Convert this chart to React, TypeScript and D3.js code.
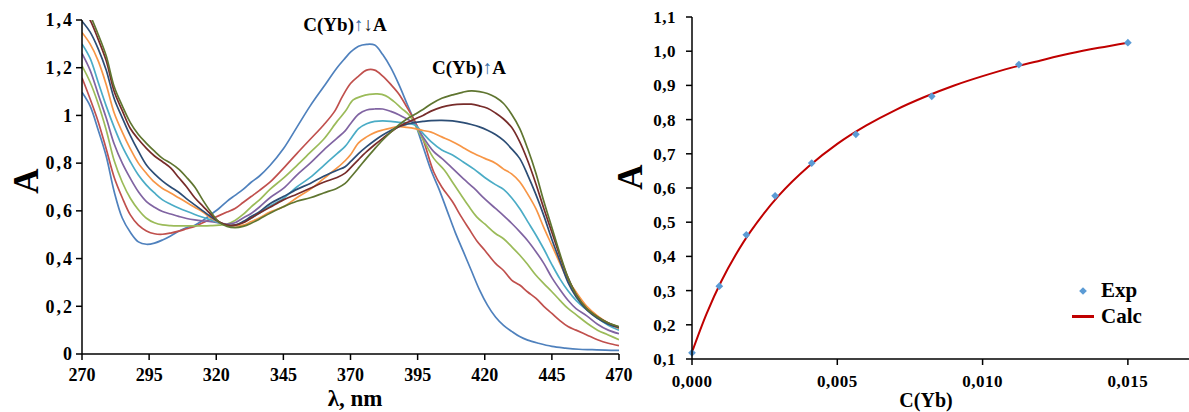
import React from "react";
import * as d3 from "d3";

// ---------- Left chart: absorption spectra ----------
const WL_TICKS = [270, 295, 320, 345, 370, 395, 420, 445, 470];
const A_TICKS = [0, 0.2, 0.4, 0.6, 0.8, 1, 1.2, 1.4];
const A_TICK_LABELS = ["0", "0,2", "0,4", "0,6", "0,8", "1", "1,2", "1,4"];

type Pt = [number, number];

const specBlue: Pt[] = [[270,1.097],[273,1.04],[276,0.94],[279,0.83],[282,0.68],[285,0.57],[288,0.51],[291,0.47],[294,0.46],[297,0.465],[300,0.478],[303,0.495],[306,0.515],[309,0.53],[312,0.54],[315,0.56],[318,0.585],[321,0.61],[324,0.64],[327,0.665],[330,0.69],[333,0.72],[336,0.745],[340,0.79],[345,0.86],[350,0.95],[355,1.04],[360,1.12],[365,1.2],[368,1.24],[370,1.265],[373,1.29],[376,1.298],[379,1.295],[382,1.255],[385,1.2],[388,1.13],[391,1.05],[394,0.97],[397,0.87],[400,0.77],[403,0.69],[406,0.6],[409,0.51],[412,0.43],[415,0.35],[418,0.27],[421,0.205],[424,0.155],[427,0.12],[430,0.095],[433,0.073],[436,0.058],[440,0.045],[445,0.032],[450,0.025],[455,0.02],[460,0.018],[465,0.016],[470,0.015]];
const specRed: Pt[] = [[270,1.158],[273,1.07],[276,0.975],[279,0.86],[282,0.74],[285,0.655],[288,0.583],[291,0.54],[294,0.516],[297,0.504],[300,0.502],[303,0.507],[306,0.515],[309,0.525],[312,0.535],[315,0.55],[318,0.565],[321,0.58],[324,0.595],[327,0.61],[330,0.635],[333,0.66],[336,0.685],[340,0.72],[345,0.778],[350,0.84],[355,0.9],[360,0.96],[364,1.016],[367,1.08],[370,1.134],[373,1.165],[376,1.19],[379,1.19],[382,1.165],[385,1.13],[388,1.09],[391,1.035],[394,0.975],[397,0.9],[401,0.763],[404,0.7],[408,0.638],[411,0.58],[414,0.527],[417,0.475],[420,0.435],[424,0.38],[427,0.35],[430,0.31],[433,0.289],[436,0.26],[439,0.234],[442,0.2],[445,0.17],[448,0.14],[451,0.115],[454,0.1],[458,0.08],[462,0.06],[466,0.045],[470,0.035]];
const specGreen: Pt[] = [[270,1.208],[273,1.14],[276,1.05],[279,0.94],[282,0.81],[285,0.72],[288,0.653],[291,0.605],[294,0.569],[297,0.55],[300,0.541],[303,0.538],[306,0.537],[309,0.537],[312,0.537],[315,0.537],[318,0.538],[321,0.54],[324,0.545],[327,0.56],[330,0.585],[333,0.617],[336,0.645],[340,0.69],[345,0.737],[350,0.79],[355,0.845],[360,0.9],[365,0.975],[368,1.016],[371,1.065],[374,1.08],[377,1.088],[380,1.09],[383,1.083],[386,1.06],[389,1.03],[392,1.0],[395,0.94],[398,0.88],[401,0.82],[405,0.77],[408,0.72],[411,0.67],[414,0.62],[417,0.575],[420,0.545],[424,0.505],[427,0.483],[430,0.45],[433,0.415],[436,0.375],[439,0.331],[442,0.295],[445,0.261],[448,0.225],[451,0.191],[454,0.165],[458,0.13],[462,0.1],[466,0.08],[470,0.06]];
const specPurple: Pt[] = [[270,1.26],[273,1.19],[276,1.09],[279,0.99],[282,0.88],[285,0.8],[288,0.736],[291,0.68],[294,0.639],[297,0.615],[300,0.597],[303,0.587],[306,0.577],[309,0.568],[312,0.562],[315,0.558],[318,0.555],[321,0.55],[324,0.545],[327,0.55],[330,0.57],[333,0.589],[336,0.615],[340,0.655],[345,0.694],[350,0.75],[355,0.8],[360,0.855],[365,0.905],[368,0.935],[370,0.965],[373,1.005],[376,1.023],[379,1.027],[382,1.027],[385,1.017],[388,1.003],[391,0.985],[394,0.965],[397,0.91],[401,0.848],[404,0.82],[408,0.778],[412,0.735],[416,0.695],[420,0.65],[424,0.61],[427,0.58],[430,0.548],[433,0.513],[436,0.475],[439,0.43],[442,0.38],[445,0.32],[448,0.27],[451,0.225],[454,0.19],[458,0.16],[462,0.125],[466,0.1],[470,0.085]];
const specCyan: Pt[] = [[270,1.3],[273,1.24],[276,1.14],[279,1.04],[282,0.95],[285,0.87],[288,0.806],[291,0.75],[294,0.708],[297,0.675],[300,0.646],[303,0.628],[306,0.612],[309,0.598],[312,0.585],[315,0.573],[318,0.562],[321,0.55],[324,0.54],[327,0.54],[330,0.552],[333,0.569],[336,0.59],[340,0.62],[345,0.652],[350,0.7],[355,0.74],[360,0.79],[365,0.84],[368,0.87],[370,0.9],[373,0.945],[376,0.965],[379,0.975],[382,0.977],[385,0.975],[388,0.971],[391,0.968],[394,0.96],[397,0.925],[400,0.89],[404,0.855],[408,0.834],[412,0.805],[416,0.775],[420,0.74],[424,0.71],[427,0.69],[430,0.655],[433,0.61],[436,0.555],[439,0.5],[442,0.44],[445,0.375],[448,0.315],[451,0.265],[454,0.225],[458,0.185],[462,0.15],[466,0.12],[470,0.1]];
const specOrange: Pt[] = [[270,1.348],[273,1.3],[276,1.23],[279,1.13],[282,1.01],[285,0.93],[288,0.86],[291,0.8],[294,0.757],[297,0.72],[300,0.694],[303,0.675],[306,0.655],[309,0.635],[312,0.615],[315,0.595],[318,0.57],[321,0.553],[324,0.54],[327,0.537],[330,0.54],[333,0.555],[336,0.57],[340,0.595],[345,0.617],[350,0.655],[355,0.69],[360,0.735],[365,0.78],[368,0.81],[370,0.835],[373,0.885],[376,0.91],[379,0.928],[382,0.939],[385,0.947],[388,0.953],[391,0.95],[394,0.945],[397,0.937],[400,0.93],[404,0.91],[408,0.89],[412,0.865],[416,0.84],[420,0.82],[424,0.8],[427,0.775],[430,0.755],[433,0.722],[436,0.67],[439,0.61],[442,0.53],[445,0.455],[448,0.38],[451,0.31],[454,0.26],[458,0.2],[462,0.16],[466,0.13],[470,0.107]];
const specNavy: Pt[] = [[270,1.395],[273,1.35],[276,1.28],[279,1.19],[282,1.07],[285,0.99],[288,0.915],[291,0.85],[294,0.792],[297,0.755],[300,0.725],[303,0.7],[306,0.678],[309,0.65],[312,0.625],[315,0.6],[318,0.575],[321,0.553],[324,0.54],[327,0.54],[330,0.555],[333,0.576],[336,0.595],[340,0.63],[345,0.66],[350,0.69],[355,0.715],[360,0.745],[365,0.77],[368,0.785],[370,0.806],[373,0.84],[376,0.869],[379,0.895],[382,0.918],[385,0.937],[388,0.953],[391,0.963],[394,0.971],[397,0.975],[400,0.978],[404,0.979],[408,0.977],[412,0.97],[415,0.962],[418,0.952],[421,0.938],[424,0.92],[427,0.895],[430,0.86],[433,0.82],[436,0.75],[439,0.67],[442,0.58],[445,0.48],[448,0.39],[451,0.3],[454,0.24],[458,0.185],[462,0.15],[466,0.125],[470,0.11]];
const specDarkRed: Pt[] = [[270,1.45],[273,1.4],[276,1.32],[279,1.23],[282,1.1],[285,1.02],[288,0.945],[291,0.9],[294,0.862],[297,0.83],[300,0.806],[303,0.78],[306,0.74],[309,0.7],[312,0.655],[315,0.62],[318,0.585],[321,0.555],[324,0.54],[327,0.54],[330,0.55],[333,0.57],[336,0.59],[340,0.615],[345,0.646],[350,0.67],[355,0.695],[360,0.72],[365,0.74],[368,0.758],[370,0.78],[373,0.815],[376,0.848],[379,0.877],[382,0.904],[385,0.93],[388,0.953],[391,0.97],[394,0.985],[397,1.0],[400,1.018],[404,1.035],[408,1.044],[412,1.047],[415,1.047],[418,1.04],[421,1.03],[424,1.01],[427,0.985],[430,0.95],[433,0.89],[436,0.81],[439,0.715],[442,0.61],[445,0.51],[448,0.41],[451,0.32],[454,0.25],[458,0.19],[462,0.155],[466,0.13],[470,0.113]];
const specOlive: Pt[] = [[270,1.48],[273,1.42],[276,1.34],[279,1.25],[282,1.12],[285,1.04],[288,0.97],[291,0.92],[294,0.883],[297,0.85],[300,0.82],[303,0.8],[306,0.775],[309,0.74],[312,0.7],[315,0.645],[318,0.595],[321,0.553],[324,0.535],[327,0.53],[330,0.535],[333,0.548],[336,0.565],[340,0.59],[345,0.617],[350,0.64],[355,0.655],[360,0.675],[365,0.695],[368,0.715],[370,0.74],[373,0.78],[376,0.821],[379,0.86],[382,0.897],[385,0.93],[388,0.96],[391,0.985],[394,1.005],[397,1.025],[400,1.048],[404,1.072],[408,1.086],[412,1.098],[415,1.103],[418,1.1],[421,1.092],[424,1.076],[427,1.05],[430,1.005],[433,0.946],[436,0.86],[439,0.76],[442,0.64],[445,0.53],[448,0.42],[451,0.32],[454,0.25],[458,0.19],[462,0.155],[466,0.13],[470,0.115]];

const SPECTRA_COLORS = ["#4F81BD", "#C0504D", "#9BBB59", "#8064A2", "#4BACC6", "#F79646", "#2C4D75", "#772C2A", "#5F7530"];
const SPECTRA = [specBlue, specRed, specGreen, specPurple, specCyan, specOrange, specNavy, specDarkRed, specOlive];

// ---------- Right chart: titration curve ----------
const C_TICKS = [0, 0.005, 0.01, 0.015];
const C_TICK_LABELS = ["0,000", "0,005", "0,010", "0,015"];
const A2_TICKS = [0.1, 0.2, 0.3, 0.4, 0.5, 0.6, 0.7, 0.8, 0.9, 1.0, 1.1];
const A2_TICK_LABELS = ["0,1", "0,2", "0,3", "0,4", "0,5", "0,6", "0,7", "0,8", "0,9", "1,0", "1,1"];

const concExp = [0, 0.00094, 0.00187, 0.00286, 0.00412, 0.00564, 0.00825, 0.01125, 0.015];
const absExp = [0.118, 0.313, 0.463, 0.577, 0.673, 0.757, 0.868, 0.961, 1.025];
const concCalc = [0, 0.0005, 0.001, 0.0015, 0.002, 0.003, 0.004, 0.005, 0.006, 0.007, 0.008, 0.009, 0.01, 0.011, 0.012, 0.013, 0.014, 0.015];
const absCalc = [0.12, 0.232, 0.326, 0.404, 0.471, 0.579, 0.662, 0.729, 0.783, 0.828, 0.866, 0.899, 0.927, 0.952, 0.973, 0.993, 1.01, 1.025];

const FONT = "'Liberation Serif', 'Times New Roman', serif";

export default function App() {
  // left scales
  const x1 = d3.scaleLinear().domain([270, 470]).range([82, 619]);
  const y1 = d3.scaleLinear().domain([0, 1.4]).range([354, 20]);
  const line1 = d3
    .line<Pt>()
    .x((d) => x1(d[0]))
    .y((d) => y1(d[1]))
    .curve(d3.curveCatmullRom.alpha(0.5));

  // right scales
  const x2 = d3.scaleLinear().domain([0, 0.017]).range([692, 1186]);
  const y2 = d3.scaleLinear().domain([0.1, 1.1]).range([359, 17]);
  const calcPts: Pt[] = concCalc.map((c, i) => [c, absCalc[i]]);
  const line2 = d3
    .line<Pt>()
    .x((d) => x2(d[0]))
    .y((d) => y2(d[1]))
    .curve(d3.curveCatmullRom.alpha(0.5));
  const diamond = d3.symbol().type(d3.symbolSquare).size(30)();

  return (
    <svg
      width={1189}
      height={412}
      style={{ position: "absolute", left: 0, top: 0, background: "#fff" }}
      fontFamily={FONT}
      fontWeight="bold"
    >
      <defs>
        <clipPath id="clipL">
          <rect x={82} y={20} width={537} height={334} />
        </clipPath>
      </defs>
      <rect x={0} y={0} width={1189} height={412} fill="#fff" />

      {/* ----- Left chart ----- */}
      <g clipPath="url(#clipL)">
        {SPECTRA.map((s, i) => (
          <path key={i} d={line1(s) || ""} fill="none" stroke={SPECTRA_COLORS[i]} strokeWidth={1.7} />
        ))}
      </g>
      <line x1={x1(270)} x2={x1(270)} y1={y1(1.4)} y2={y1(0)} stroke="#000" strokeWidth={1.5} />
      <line x1={x1(270)} x2={x1(470)} y1={y1(0)} y2={y1(0)} stroke="#000" strokeWidth={1.5} />
      {A_TICKS.map((t, i) => (
        <g key={"ly" + i}>
          <line x1={x1(270) - 6} x2={x1(270)} y1={y1(t)} y2={y1(t)} stroke="#000" strokeWidth={1.5} />
          <text x={x1(270) - 8} y={y1(t)} dy="0.35em" textAnchor="end" fontSize={18} letterSpacing={2}>
            {A_TICK_LABELS[i]}
          </text>
        </g>
      ))}
      {WL_TICKS.map((t, i) => (
        <g key={"lx" + i}>
          <line x1={x1(t)} x2={x1(t)} y1={y1(0)} y2={y1(0) + 6} stroke="#000" strokeWidth={1.5} />
          <text x={x1(t)} y={381} textAnchor="middle" fontSize={18}>
            {t}
          </text>
        </g>
      ))}
      <text transform="translate(38,181) rotate(-90)" textAnchor="middle" fontSize={35}>
        A
      </text>
      <text x={355} y={406} textAnchor="middle" fontSize={23}>
        λ, nm
      </text>
      <text x={345} y={31} textAnchor="middle" fontSize={19}>
        C(Yb)
        <tspan fontWeight="normal" fill="#3a6ea5">↑</tspan>
        <tspan fontWeight="normal" fill="#222">↓</tspan>A
      </text>
      <text x={469} y={74} textAnchor="middle" fontSize={19}>
        C(Yb)
        <tspan fontWeight="normal" fill="#3a6ea5">↑</tspan>A
      </text>

      {/* ----- Right chart ----- */}
      <path d={line2(calcPts) || ""} fill="none" stroke="#C00000" strokeWidth={2} />
      {concExp.map((c, i) => (
        <path key={"e" + i} d={diamond || ""} transform={`translate(${x2(c)},${y2(absExp[i])}) rotate(45)`} fill="#5B9BD5" />
      ))}
      <line x1={x2(0)} x2={x2(0)} y1={y2(1.1)} y2={y2(0.1)} stroke="#000" strokeWidth={1.5} />
      <line x1={x2(0)} x2={1189} y1={y2(0.1)} y2={y2(0.1)} stroke="#000" strokeWidth={1.5} />
      {A2_TICKS.map((t, i) => (
        <g key={"ry" + i}>
          <line x1={x2(0) - 6} x2={x2(0)} y1={y2(t)} y2={y2(t)} stroke="#000" strokeWidth={1.5} />
          <text x={x2(0) - 16} y={y2(t)} dy="0.35em" textAnchor="end" fontSize={17} letterSpacing={0.5}>
            {A2_TICK_LABELS[i]}
          </text>
        </g>
      ))}
      {C_TICKS.map((t, i) => (
        <g key={"rx" + i}>
          <line x1={x2(t)} x2={x2(t)} y1={y2(0.1)} y2={y2(0.1) + 6} stroke="#000" strokeWidth={1.5} />
          <text x={x2(t)} y={387} textAnchor="middle" fontSize={17} letterSpacing={0.5}>
            {C_TICK_LABELS[i]}
          </text>
        </g>
      ))}
      <text transform="translate(642,177) rotate(-90)" textAnchor="middle" fontSize={35}>
        A
      </text>
      <text x={926} y={407} textAnchor="middle" fontSize={20}>
        C(Yb)
      </text>

      {/* legend */}
      <path d={diamond || ""} transform="translate(1083,291) rotate(45)" fill="#5B9BD5" />
      <text x={1101} y={297} fontSize={21}>
        Exp
      </text>
      <line x1={1072} x2={1094} y1={316.5} y2={316.5} stroke="#C00000" strokeWidth={3} />
      <text x={1101} y={323} fontSize={21}>
        Calc
      </text>
    </svg>
  );
}
